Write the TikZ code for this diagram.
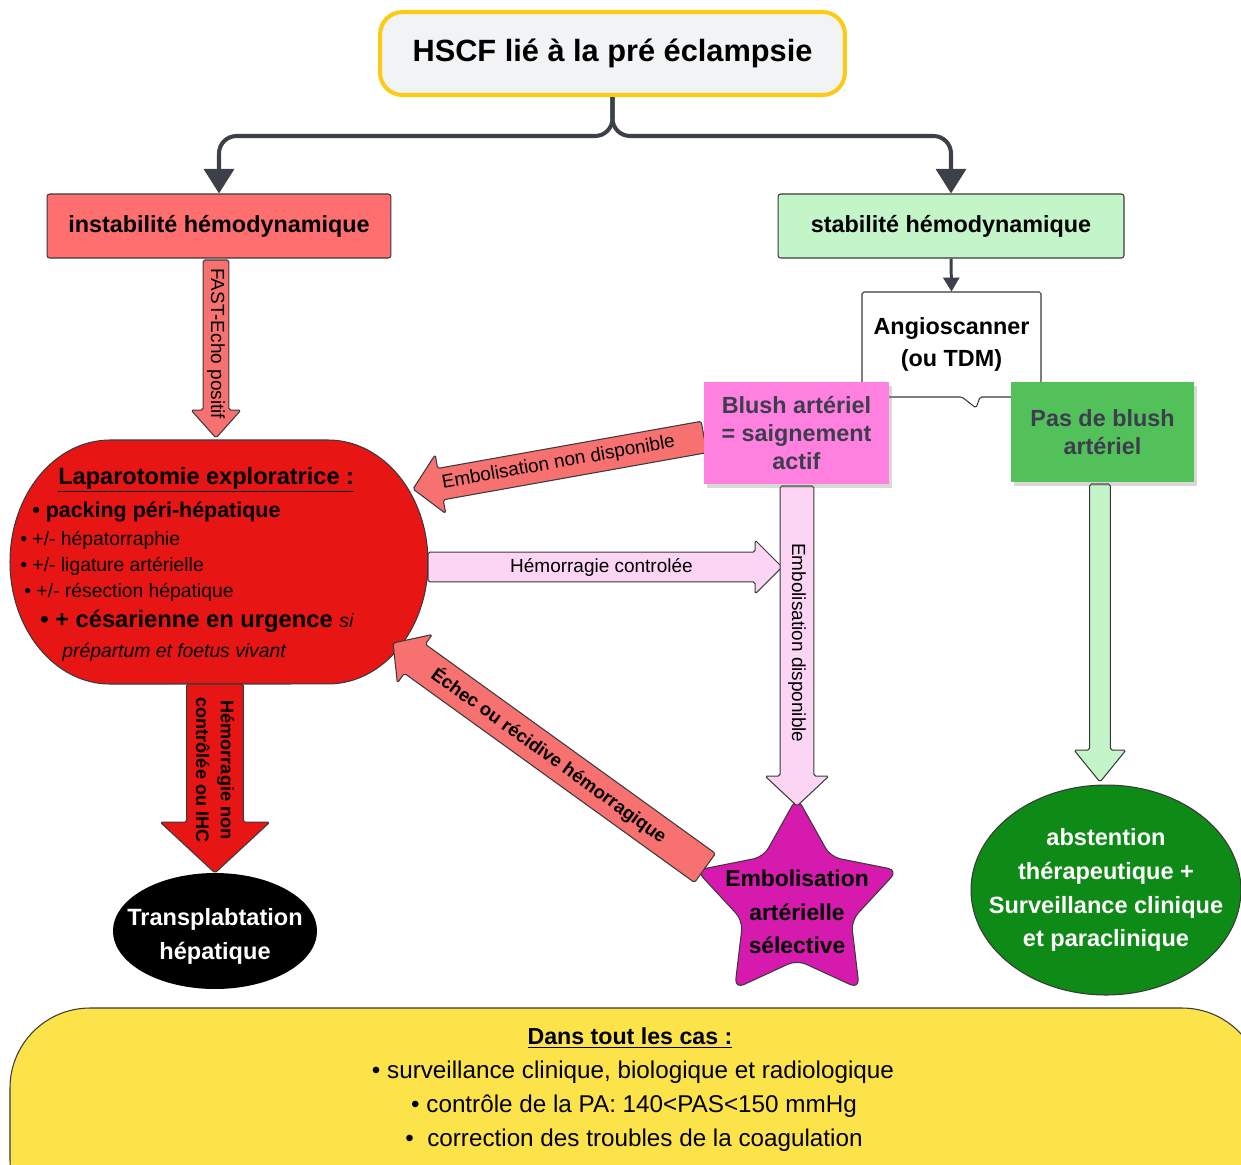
\documentclass[tikz,border=0pt]{standalone}
\usepackage{fontspec}
\setmainfont{Liberation Sans}
\usetikzlibrary{arrows.meta,shapes.geometric,shadows}
\definecolor{titlefill}{HTML}{F1F3F5}
\definecolor{titlebord}{HTML}{FACC15}
\definecolor{conncol}{HTML}{3C4049}
\definecolor{redbox}{HTML}{FF6F6F}
\definecolor{greenbox}{HTML}{C3F5C8}
\definecolor{pinkbox}{HTML}{FF80DF}
\definecolor{greendark}{HTML}{52C15A}
\definecolor{lapred}{HTML}{E81515}
\definecolor{arrred}{HTML}{F87171}
\definecolor{arrpink}{HTML}{FDD5F4}
\definecolor{starmag}{HTML}{D61AAE}
\definecolor{ellgreen}{HTML}{0E8A16}
\definecolor{yellowbg}{HTML}{FCE34A}
\definecolor{boxtext}{HTML}{3D3D4E}
\definecolor{bord}{HTML}{3A3A3A}

% block arrow: #1 style, #2 from, #3 to, #4 shaft half (px), #5 head half (px),
% #6 head length (px), #7 text rotation offset, #8 text position fraction, #9 text
\newcommand{\barrow}[9]{%
  \pgfpointdiff{\pgfpointanchor{#2}{center}}{\pgfpointanchor{#3}{center}}%
  \pgfgetlastxy{\bdx}{\bdy}%
  \pgfmathsetmacro{\bang}{atan2(\bdy,\bdx)}%
  \pgfmathsetmacro{\blen}{veclen(\bdx,\bdy)}%
  \pgfmathsetmacro{\bsh}{#4*0.5669}%
  \pgfmathsetmacro{\bhd}{#5*0.5669}%
  \pgfmathsetmacro{\bbase}{\blen-#6*0.5669}%
  \pgfmathsetmacro{\btx}{\blen*#8}%
  \pgfmathsetmacro{\brot}{\bang+#7}%
  \begin{scope}[shift={(#2)},rotate=\bang]
    \draw[barr,#1] (0pt,-\bsh pt) -- (\bbase pt,-\bsh pt) -- (\bbase pt,-\bhd pt) -- (\blen pt,0pt) -- (\bbase pt,\bhd pt) -- (\bbase pt,\bsh pt) -- (0pt,\bsh pt) -- cycle;
    \node[barrlabel, rotate=\brot, inner sep=0pt, align=center] (lbl#2) at (\btx pt,0pt) {#9};
  \end{scope}}

\begin{document}
\begin{tikzpicture}[x=0.02cm,y=-0.02cm,
  bordline/.style={draw=bord, line width=0.6pt},
  titlebox/.style={draw=titlebord, line width=2.3pt, fill=titlefill, rounded corners=0.45cm, minimum width=9.3cm, minimum height=1.66cm, font=\fontsize{17.5}{21}\selectfont\bfseries},
  hbox/.style={bordline, rounded corners=1.5pt, minimum height=1.28cm, font=\fontsize{13.3}{16}\selectfont\bfseries},
  sticky/.style={drop shadow={shadow xshift=1.5pt,shadow yshift=-2.5pt,opacity=0.3}, text=boxtext, align=center, font=\fontsize{13.3}{15.9}\selectfont\bfseries},
  conn/.style={draw=conncol, line width=2.3pt},
  barr/.style={bordline, rounded corners=1pt},
  barrlabel/.style={font=\fontsize{10.8}{13}\selectfont},
  lapline/.style={anchor=west, inner sep=0pt},
  bigtext/.style={align=center, font=\fontsize{13.3}{19}\selectfont\bfseries},
  botline/.style={inner sep=0pt, font=\fontsize{13.8}{16}\selectfont}
]
\useasboundingbox (0,0) rectangle (1241,1164);
\clip (0,0) rectangle (1241,1164);
\fill[white] (0,0) rectangle (1241,1164);

% ---------- top ----------
\node[titlebox] (title) at (612.5,53.5) {HSCF lié à la pré éclampsie};
\node[hbox, fill=redbox, minimum width=6.88cm] (inst) at (219,226) {instabilité hémodynamique};
\node[hbox, fill=greenbox, minimum width=6.92cm] (stab) at (951,226) {stabilité hémodynamique};
\draw[conn, rounded corners=0.35cm, -{Triangle[length=14pt,width=17pt]}] (title.south) |- (219,136) -- (inst.north);
\draw[conn, rounded corners=0.35cm, -{Triangle[length=14pt,width=17pt]}] (title.south) |- (951,136) -- (stab.north);

% ---------- angioscanner callout ----------
\draw[bordline, fill=white, rounded corners=1pt] (862,397) -- (862,292) -- (1041,292) -- (1041,397) -- (980,397) -- (976,408) -- (962,397) -- cycle;
\node[bigtext, font=\fontsize{13.3}{18.7}\selectfont\bfseries, minimum width=3.58cm, minimum height=2.1cm] (angio) at (951.5,344.5) {Angioscanner\\(ou TDM)};
\draw[draw=conncol, line width=1.7pt, -{Triangle[length=8pt,width=9pt]}] (stab.south) -- (angio.north);

% ---------- laparotomie ----------
\draw[bordline, fill=lapred] (110,440) -- (328,440) arc[start angle=90, end angle=-90, x radius=2cm, y radius=2.44cm] -- (110,684) arc[start angle=270, end angle=90, x radius=2cm, y radius=2.44cm] -- cycle;
\node[lapline, font=\fontsize{13.4}{16}\selectfont\bfseries] (l0) at (58,480) {\underline{Laparotomie exploratrice :}};
\node[lapline, font=\fontsize{12.2}{15}\selectfont\bfseries] (l1) at (32,512) {• packing péri-hépatique};
\node[lapline, font=\fontsize{11}{13}\selectfont] (l2) at (20,540) {• +/- hépatorraphie};
\node[lapline, font=\fontsize{11}{13}\selectfont] (l3) at (20,566) {• +/- ligature artérielle};
\node[lapline, font=\fontsize{11}{13}\selectfont] (l4) at (24,592) {• +/- résection hépatique};
\node[lapline, font=\fontsize{13.5}{16}\selectfont\bfseries] (l5) at (40,621) {• + césarienne en urgence {\fontsize{11}{13}\selectfont\mdseries\itshape si}};
\node[lapline, font=\fontsize{11}{13}\selectfont\itshape] (l6) at (62,652) {prépartum et foetus vivant};

% ---------- star ----------
\begin{scope}[shift={(797,903)}]
\draw[bordline, fill=starmag, rounded corners=0.2cm] (-90:106) -- (-126:57) -- (-162:106) -- (-198:57) -- (-234:106) -- (-270:57) -- (-306:106) -- (-342:57) -- (-18:106) -- (-54:57) -- cycle;
\end{scope}
\node[bigtext, font=\fontsize{13}{19}\selectfont\bfseries] (star) at (797,912) {Embolisation\\artérielle\\sélective};

% ---------- ellipses ----------
\fill[black] (215,931) ellipse [x radius=2.04cm, y radius=1.16cm];
\node[bigtext, text=white, font=\fontsize{13.4}{19.3}\selectfont\bfseries] (transp) at (215,936) {Transplabtation\\hépatique};
\draw[bordline, fill=ellgreen] (1106,890) ellipse [x radius=2.7cm, y radius=2.1cm];
\node[bigtext, text=white, font=\fontsize{13.4}{19.3}\selectfont\bfseries] (abst) at (1106,890) {abstention\\thérapeutique +\\Surveillance clinique\\et paraclinique};

% ---------- block arrows ----------
\coordinate (fastA) at (216,260);  \coordinate (fastB) at (216,438);
\coordinate (endA) at (704,437);   \coordinate (endB) at (413,489);
\coordinate (hcA) at (428,567);    \coordinate (hcB) at (782,567);
\coordinate (edA) at (797,486);    \coordinate (edB) at (797,806);
\coordinate (ecA) at (705,868);    \coordinate (ecB) at (393,643);
\coordinate (hnA) at (215,684);    \coordinate (hnB) at (215,873);
\coordinate (gA) at (1100,484);    \coordinate (gB) at (1100,782);

\barrow{fill=arrred}{fastA}{fastB}{13}{25}{28}{0}{0.47}{FAST-Echo positif}
\barrow{fill=arrred}{endA}{endB}{16}{30}{28}{180}{0.5}{Embolisation non disponible}
\barrow{fill=arrpink}{hcA}{hcB}{15}{27}{27}{0}{0.49}{Hémorragie controlée}
\barrow{fill=arrpink}{edA}{edB}{17}{32}{30}{0}{0.49}{Embolisation disponible}
\tikzset{barrlabel/.style={font=\fontsize{10.5}{13}\selectfont\bfseries}}
\barrow{fill=arrred}{ecA}{ecB}{18}{30}{27}{180}{0.5}{Échec ou récidive hémorragique}
\tikzset{barrlabel/.style={font=\fontsize{10.3}{14}\selectfont\bfseries}}
\barrow{fill=lapred}{hnA}{hnB}{28.5}{55}{51}{0}{0.455}{Hémorragie non\\contrôlée ou IHC}
\barrow{fill=greenbox}{gA}{gB}{10.5}{26}{32}{0}{0.5}{}

% ---------- blush boxes ----------
\node[sticky, fill=pinkbox, minimum width=3.7cm, minimum height=2.04cm] (blush) at (796.5,433) {Blush artériel\\= saignement\\actif};
\node[sticky, fill=greendark, minimum width=3.66cm, minimum height=2cm] (noblush) at (1102.5,432) {Pas de blush\\artériel};

% ---------- bottom ----------
\draw[bordline, fill=yellowbg, rounded corners=1.6cm] (10,1008) rectangle (1262,1240);
\node[botline, font=\fontsize{13.2}{16}\selectfont\bfseries] (d0) at (630,1038) {\underline{Dans tout les cas :}};
\node[botline] (d1) at (633,1072) {• surveillance clinique, biologique et radiologique};
\node[botline] (d2) at (634,1106) {• contrôle de la PA: 140<PAS<150 mmHg};
\node[botline] (d3) at (634,1140) {•\ \ correction des troubles de la coagulation};
\end{tikzpicture}
\end{document}
